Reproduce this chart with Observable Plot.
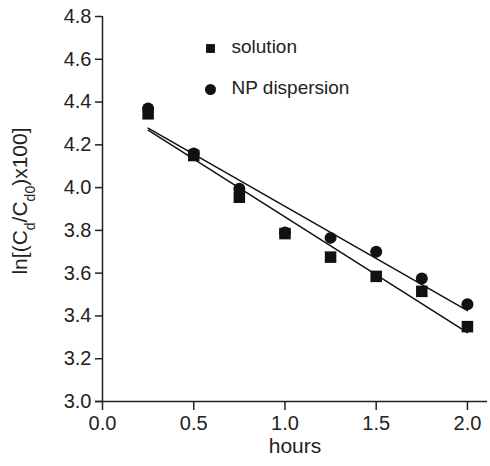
<!DOCTYPE html>
<html>
<head>
<meta charset="utf-8">
<script src="https://cdn.jsdelivr.net/npm/d3@7"></script>
<script src="https://cdn.jsdelivr.net/npm/@observablehq/plot@0.6"></script>
<style>
  html, body { margin: 0; padding: 0; background: #fff; }
  svg { display: block; }
</style>
</head>
<body>
<div id="chart"></div>
<script>
const hours = [0.25, 0.5, 0.75, 1.0, 1.25, 1.5, 1.75, 2.0];
const solution = [4.345, 4.15, 3.955, 3.785, 3.675, 3.585, 3.515, 3.35];
const npDispersion = [4.37, 4.16, 3.995, 3.79, 3.765, 3.70, 3.575, 3.455];
const xTicks = [0, 0.5, 1.0, 1.5, 2.0];
const yTicks = [3.0, 3.2, 3.4, 3.6, 3.8, 4.0, 4.2, 4.4, 4.6, 4.8];
const seriesNames = ["solution", "NP dispersion"];

const solData = hours.map((h, i) => ({x: h, y: solution[i]}));
const npData = hours.map((h, i) => ({x: h, y: npDispersion[i]}));

const font = "Liberation Sans, Arial, Helvetica, sans-serif";

const chart = Plot.plot({
  width: 490,
  height: 466,
  marginLeft: 102,
  marginRight: 3,
  marginTop: 16,
  marginBottom: 65,
  style: {fontFamily: font, fontSize: "20px", color: "#222", background: "#fff"},
  x: {domain: [0, 2.11]},
  y: {domain: [3, 4.8]},
  marks: [
    Plot.ruleX([0], {stroke: "#222", strokeWidth: 1.5}),
    Plot.ruleY([3], {stroke: "#222", strokeWidth: 1.5, insetLeft: -7}),
    Plot.axisY({ticks: yTicks, tickFormat: d3.format(".1f"), tickSize: 7, tickPadding: 4, fontSize: 20, label: null, stroke: "#222", strokeWidth: 1.5}),
    Plot.axisX({ticks: xTicks, tickFormat: d3.format(".1f"), tickSize: 9, tickPadding: 5, fontSize: 20, label: null, stroke: "#222", strokeWidth: 1.5}),
    Plot.linearRegressionY(solData, {x: "x", y: "y", ci: 0, stroke: "#111", strokeWidth: 1.5}),
    Plot.linearRegressionY(npData, {x: "x", y: "y", ci: 0, stroke: "#111", strokeWidth: 1.5}),
    Plot.dot(solData, {x: "x", y: "y", symbol: "square", r: 6.5, fill: "#111", stroke: "none"}),
    Plot.dot(npData, {x: "x", y: "y", symbol: "circle", r: 6, fill: "#111", stroke: "none"}),
    // legend
    Plot.dot([seriesNames[0]], {frameAnchor: "top-left", dx: 108, dy: 32, symbol: "square", r: 5, fill: "#111"}),
    Plot.dot([seriesNames[1]], {frameAnchor: "top-left", dx: 108, dy: 73, symbol: "circle", r: 5.5, fill: "#111"}),
    Plot.text([seriesNames[0]], {frameAnchor: "top-left", lineAnchor: "middle", dx: 129, dy: 30, text: d => d, textAnchor: "start", fontSize: 19, fill: "#222"}),
    Plot.text([seriesNames[1]], {frameAnchor: "top-left", lineAnchor: "middle", dx: 129, dy: 71, text: d => d, textAnchor: "start", fontSize: 19, fill: "#222"}),
    // axis titles
    Plot.text(["hours"], {frameAnchor: "bottom", lineAnchor: "middle", dy: 45, text: d => d, fontSize: 21, fill: "#222"}),
    Plot.text(["ylabel"], {frameAnchor: "left", lineAnchor: "middle", textAnchor: "middle", dx: -82, dy: -8, rotate: -90, text: d => "ln[(Cd/Cd0)x100]", fontSize: 21, fill: "#222", className: "ylab"})
  ]
});

document.getElementById("chart").appendChild(chart);

// Rich y-axis title with subscripts
d3.select(chart).selectAll("g.ylab text, .ylab text").each(function() {
  const t = d3.select(this);
  t.text(null);
  t.append("tspan").text("ln[(C");
  t.append("tspan").attr("baseline-shift", "sub").attr("font-size", "14").text("d");
  t.append("tspan").text("/C");
  t.append("tspan").attr("baseline-shift", "sub").attr("font-size", "14").text("d0");
  t.append("tspan").text(")x100]");
});
</script>
</body>
</html>
